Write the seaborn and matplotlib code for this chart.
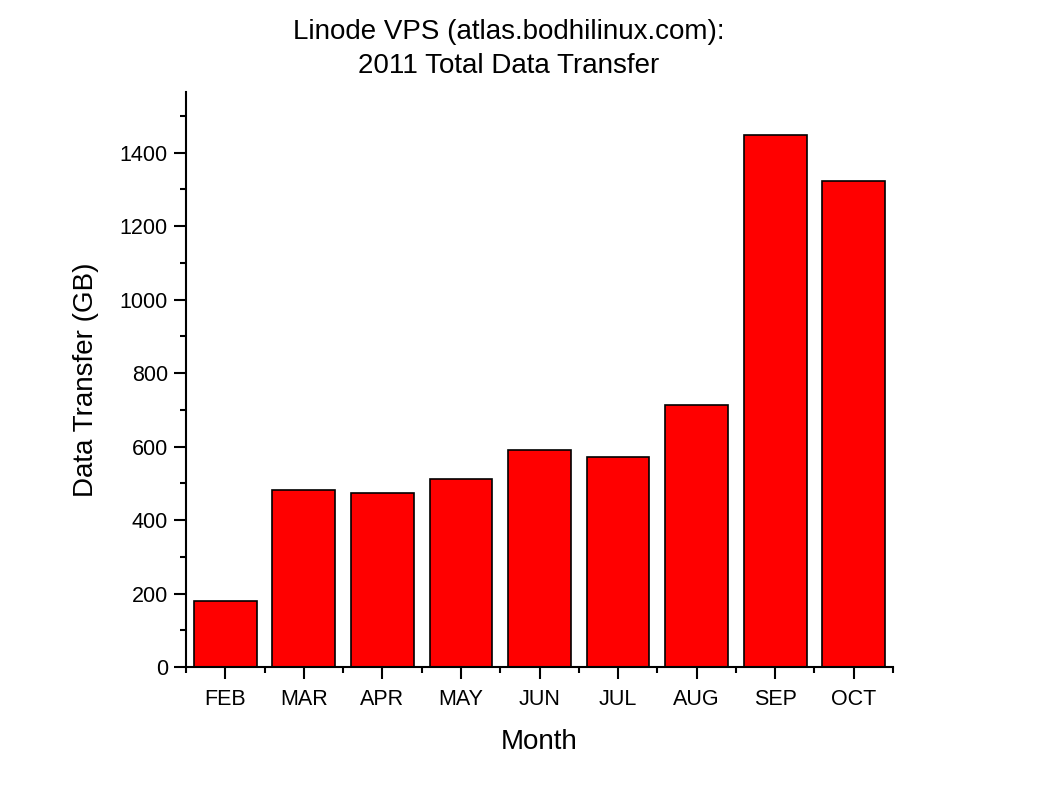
import matplotlib
matplotlib.use("Agg")
import matplotlib.pyplot as plt
from matplotlib.ticker import MultipleLocator
import seaborn as sns
import pandas as pd

months = ["FEB", "MAR", "APR", "MAY", "JUN", "JUL", "AUG", "SEP", "OCT"]
transfer_gb = [180, 482, 474, 512, 591, 572, 714, 1449, 1324]

sns.set_theme(style="ticks")
plt.rcParams['font.family'] = ['Liberation Sans', 'DejaVu Sans']
plt.rcParams['text.color'] = 'black'
plt.rcParams['axes.labelcolor'] = 'black'

df = pd.DataFrame({"Month": months, "Transfer": transfer_gb})

fig = plt.figure(figsize=(10.38, 7.99), dpi=100)
ax = fig.add_axes([186/1038, 1 - 667/799, (893-186)/1038, (667-92)/799])

sns.barplot(data=df, x="Month", y="Transfer", color="#ff0000", saturation=1,
            edgecolor="black", linewidth=1.2, width=0.8, ax=ax)

ax.set_xlim(-0.5, len(months) - 0.5)
ax.set_ylim(0, 1565)
ax.yaxis.set_major_locator(MultipleLocator(200))
ax.yaxis.set_minor_locator(MultipleLocator(100))
ax.set_xticks([i + 0.5 for i in range(-1, len(months))], minor=True)

for s in ["top", "right"]:
    ax.spines[s].set_visible(False)
for s in ["left", "bottom"]:
    ax.spines[s].set_linewidth(1.5)
    ax.spines[s].set_color("black")

ax.tick_params(axis="both", which="major", direction="out", length=8.5, width=1.5,
               labelsize=15.5, colors="black")
ax.tick_params(axis="y", which="major", pad=4.5)
ax.tick_params(axis="x", which="major", pad=7)
ax.tick_params(axis="both", which="minor", direction="out", length=4.5, width=1.5,
               colors="black")

ax.set_xlabel("Month", fontsize=20, labelpad=14, color="black")
ax.set_ylabel("Data Transfer (GB)", fontsize=20, labelpad=15, color="black")

fig.text(509/1038, 1 - 19/799, "Linode VPS (atlas.bodhilinux.com):\n2011 Total Data Transfer",
         ha="center", va="top", fontsize=20, linespacing=1.38, color="black")

fig.savefig("out.png", dpi=100)
